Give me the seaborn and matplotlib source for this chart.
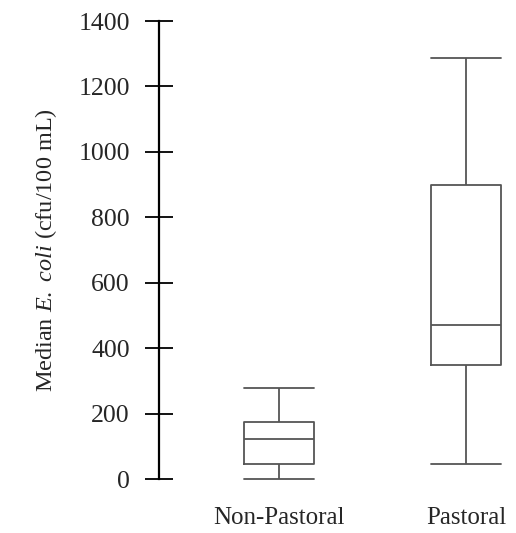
import pandas as pd
import matplotlib.pyplot as plt
import seaborn as sns

# --- Dados (resumo de cinco números) ---
categorias = ['Non-Pastoral', 'Pastoral']
non_pastoral = [0, 47, 123, 174, 278]     # min, Q1, mediana, Q3, max
pastoral = [47, 347, 471, 899, 1287]
y_ticks = [0, 200, 400, 600, 800, 1000, 1200, 1400]

df = pd.DataFrame({
    'Grupo': [categorias[0]] * len(non_pastoral) + [categorias[1]] * len(pastoral),
    'Valor': non_pastoral + pastoral,
})

# --- Estilo ---
sns.set_theme(style="white")
plt.rcParams['font.family'] = ['Liberation Serif', 'DejaVu Serif']
plt.rcParams['mathtext.fontset'] = 'custom'
plt.rcParams['mathtext.rm'] = 'Liberation Serif'
plt.rcParams['mathtext.it'] = 'Liberation Serif:italic'

fig = plt.figure(figsize=(5.16, 5.33), dpi=100)
ax = fig.add_axes([159 / 516, 54 / 533, 357 / 516, 458 / 533])

cinza = '#555555'
sns.boxplot(data=df, x='Grupo', y='Valor', order=categorias, whis=(0, 100),
            width=0.374, fill=False, color=cinza, linewidth=1.3, ax=ax,
            capwidths=0.374)
for ln in ax.lines:
    ln.set_clip_on(False)

ax.set_xlim(-0.642, 1.267)
ax.set_ylim(0, 1400)
ax.set_yticks(y_ticks)
ax.set_yticklabels([str(v) for v in y_ticks], fontsize=18.5)
ax.tick_params(axis='y', direction='inout', length=20, width=1.3, color='black', pad=11, left=True)
ax.tick_params(axis='x', length=0, pad=20, labelsize=18)
ax.set_xlabel('')
ax.set_ylabel('Median $\\mathit{E.}$ $\\mathit{coli}$ (cfu/100 mL)', fontsize=17.5, labelpad=14)

for s in ['top', 'right', 'bottom']:
    ax.spines[s].set_visible(False)
ax.spines['left'].set_color('black')
ax.spines['left'].set_linewidth(1.6)

plt.savefig('out.png', dpi=100)
